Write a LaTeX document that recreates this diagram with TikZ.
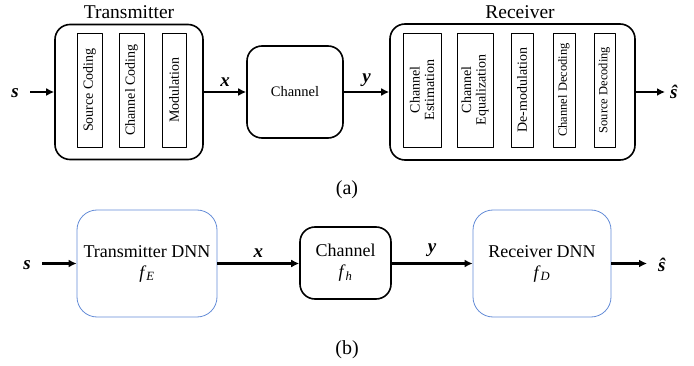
\documentclass[tikz,border=0pt]{standalone}
\usepackage{fontspec}
\setmainfont{Liberation Serif}
\usetikzlibrary{arrows.meta}
\definecolor{dnnblue}{RGB}{100,140,215}
\newcommand{\sym}[1]{\textbf{\textit{#1}}}
\begin{document}
\begin{tikzpicture}[x=1pt,y=-1pt,line join=round,
	outer/.style={draw,line width=1.6pt,rounded corners=15pt},
	inner/.style={draw,line width=0.8pt,rotate=90,minimum width=114pt,inner sep=1pt,align=center,font=\fontsize{14}{14.5}\selectfont},
	dnn/.style={draw=dnnblue,line width=0.8pt,rounded corners=20pt,minimum width=140pt,minimum height=107pt,align=center,font=\fontsize{18}{21}\selectfont},
	arr/.style={line width=2.2pt,-{Latex[length=8pt,width=8pt]}},
	lbl/.style={font=\fontsize{19}{19}\selectfont}]
	\useasboundingbox (0,0) rectangle (694,366);
	% (a) ------------------------------------------------
	\node[outer,minimum width=148pt,minimum height=135pt] (tx) at (129,92) {};
	\node[font=\fontsize{19.5}{19.5}\selectfont] (txt) at (129,12) {Transmitter};
	\node[inner,minimum height=25pt] (sc) at (89.5,90) {Source Coding};
	\node[inner,minimum height=25pt] (cc) at (131.5,90) {Channel Coding};
	\node[inner,minimum height=24pt] (mod) at (174,90) {Modulation};
	\node[outer,minimum width=96pt,minimum height=92pt,font=\fontsize{14.5}{14.5}\selectfont] (ch) at (295,92) {Channel};
	\node[outer,minimum width=245pt,minimum height=136pt] (rx) at (512.5,92) {};
	\node[font=\fontsize{19.5}{19.5}\selectfont] (rxt) at (520,12) {Receiver};
	\node[inner,minimum height=38pt] (ce) at (422,90) {Channel\\Estimation};
	\node[inner,minimum height=36pt] (ceq) at (475,90) {Channel\\Equalization};
	\node[inner,minimum height=22pt] (dm) at (522,90) {De-modulation};
	\node[inner,minimum height=22pt,font=\fontsize{12.5}{13}\selectfont] (cd) at (564,90) {Channel Decoding};
	\node[inner,minimum height=21pt,font=\fontsize{12.5}{13}\selectfont] (sd) at (604.5,90) {Source Decoding};
	\node[lbl] (sa) at (15,93) {\sym{s}};
	\node[lbl] (sha) at (674,92) {\sym{ŝ}};
	\coordinate (sae) at (30,92);
	\coordinate (shaw) at (665,92);
	\draw[arr] (sae) -- (tx.west);
	\draw[arr] (tx.east) -- (ch.west) node[lbl,midway,above=1pt] (xa) {\sym{x}};
	\draw[arr] (ch.east) -- (rx.west) node[lbl,midway,above=1pt] (ya) {\sym{y}};
	\draw[arr] (rx.east) -- (shaw);
	\node[font=\fontsize{20}{20}\selectfont] (capa) at (347,190) {(a)};
	% (b) ------------------------------------------------
	\node[dnn] (txd) at (147,263.5) {Transmitter DNN\\\textit{f}\textsubscript{\textit{E}}};
	\node[outer,minimum width=91pt,minimum height=72pt,align=center,font=\fontsize{18}{21}\selectfont] (chb) at (345.5,263) {Channel\\\textit{f}\textsubscript{\textit{h}}};
	\node[dnn,minimum width=138pt] (rxd) at (542,263.5) {Receiver DNN\\\textit{f}\textsubscript{\textit{D}}};
	\node[lbl] (sb) at (27,265) {\sym{s}};
	\node[lbl] (shb) at (662,265) {\sym{ŝ}};
	\coordinate (sbe) at (42,263.5);
	\coordinate (shbw) at (647,263.5);
	\draw[arr] (sbe) -- (txd.west);
	\draw[arr] (txd.east) -- (chb.west |- txd.east) node[lbl,midway,above=2pt] (xb) {\sym{x}};
	\draw[arr] (chb.east |- txd.east) -- (rxd.west) node[lbl,midway,above=2pt] (yb) {\sym{y}};
	\draw[arr] (rxd.east) -- (shbw);
	\node[font=\fontsize{20}{20}\selectfont] (capb) at (347,350) {(b)};
\end{tikzpicture}
\end{document}
